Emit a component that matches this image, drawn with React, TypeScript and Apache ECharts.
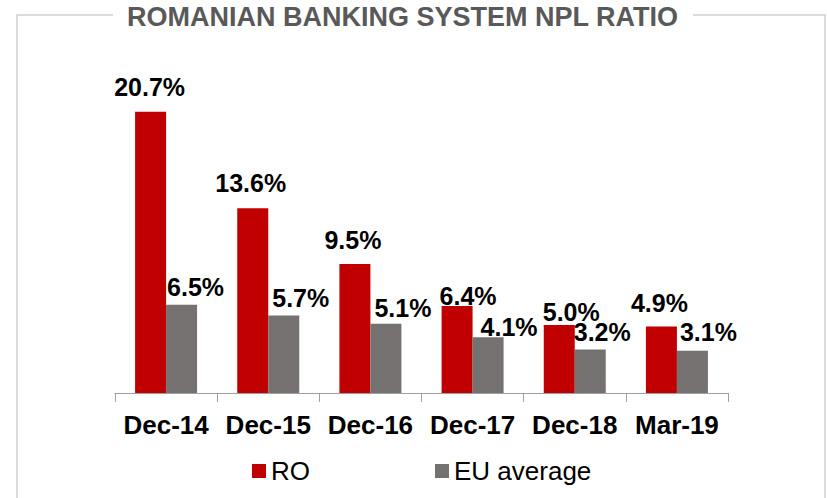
import React, { useEffect, useRef } from "react";
import * as echarts from "echarts";

const categories = ["Dec-14", "Dec-15", "Dec-16", "Dec-17", "Dec-18", "Mar-19"];
const roValues = [20.7, 13.6, 9.5, 6.4, 5.0, 4.9];
const euValues = [6.5, 5.7, 5.1, 4.1, 3.2, 3.1];
const seriesNames = ["RO", "EU average"];
const titleText = "ROMANIAN BANKING SYSTEM NPL RATIO";

// label nudges (layout only), [dx, dy] per category
const roLabelShift = [[-1, -7], [-2, -8], [-2, -6], [11, 7], [12, 4], [-2, -6]];
const euLabelShift = [[14, 0], [17, 0], [17, 2], [21, 7], [12, 0], [16, -1]];

const RED = "#C00000";
const GREY = "#767171";
const FRAME = "#cfcfcf";

export default function App() {
  const ref = useRef<HTMLDivElement>(null);

  useEffect(() => {
    document.body.style.margin = "0";
    if (!ref.current) return;
    const chart = echarts.init(ref.current, undefined, { renderer: "svg" });

    const labelBase = {
      show: true,
      position: "top" as const,
      fontFamily: "Liberation Sans, Arial, sans-serif",
      fontWeight: "bold" as const,
      fontSize: 25,
      color: "#000",
      formatter: (p: any) => Number(p.value).toFixed(1) + "%",
    };

    const build = (vals: number[], shifts: number[][]) =>
      vals.map((v, i) => ({ value: v, label: { offset: shifts[i] } }));

    chart.setOption({
      animation: false,
      textStyle: { fontFamily: "Liberation Sans, Arial, sans-serif" },
      title: {
        text: titleText,
        left: 127,
        top: 3,
        padding: 0,
        textStyle: {
          fontFamily: "Liberation Sans, Arial, sans-serif",
          fontWeight: "bold",
          fontSize: 27,
          color: "#595959",
        },
      },
      graphic: [
        {
          type: "polyline",
          shape: { points: [[113, 15], [17, 15], [17, 498]] },
          style: { stroke: FRAME, lineWidth: 1.5, fill: "none" },
          silent: true,
        },
        {
          type: "polyline",
          shape: { points: [[693, 15], [825, 15], [825, 498]] },
          style: { stroke: FRAME, lineWidth: 1.5, fill: "none" },
          silent: true,
        },
      ],
      legend: {
        left: 252,
        top: 458,
        padding: 0,
        itemWidth: 14,
        itemHeight: 14,
        itemGap: 125,
        icon: "rect",
        data: seriesNames,
        textStyle: {
          fontFamily: "Liberation Sans, Arial, sans-serif",
          fontSize: 26,
          color: "#000",
        },
      },
      grid: { left: 115, right: 99, top: 94, bottom: 105, containLabel: false },
      xAxis: {
        type: "category",
        data: categories,
        axisLine: { lineStyle: { color: "#a0a0a0", width: 1 } },
        axisTick: { show: true, length: 9, lineStyle: { color: "#a0a0a0" } },
        axisLabel: {
          interval: 0,
          margin: 19,
          fontFamily: "Liberation Sans, Arial, sans-serif",
          fontWeight: "bold",
          fontSize: 26,
          color: "#000",
        },
      },
      yAxis: { type: "value", min: 0, max: 22, show: false, splitLine: { show: false } },
      series: [
        {
          name: seriesNames[0],
          type: "bar",
          barWidth: 31,
          barGap: "0%",
          itemStyle: { color: RED },
          label: labelBase,
          data: build(roValues, roLabelShift),
        },
        {
          name: seriesNames[1],
          type: "bar",
          barWidth: 31,
          barGap: "0%",
          itemStyle: { color: GREY },
          label: labelBase,
          data: build(euValues, euLabelShift),
        },
      ],
    });

    return () => chart.dispose();
  }, []);

  return <div ref={ref} style={{ width: 827, height: 498 }} />;
}
